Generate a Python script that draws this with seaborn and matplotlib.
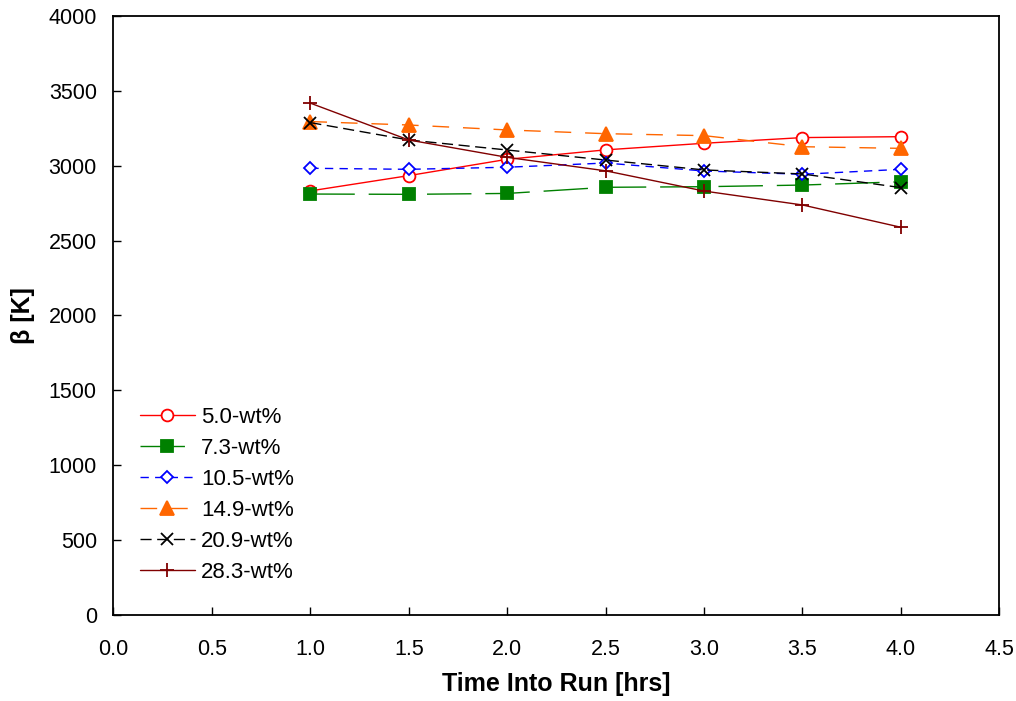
import matplotlib
matplotlib.use("Agg")
import matplotlib.pyplot as plt
import seaborn as sns
import pandas as pd

# Time points (hours into the run)
time_hrs = [1.0, 1.5, 2.0, 2.5, 3.0, 3.5, 4.0]

# Beta values [K] for each loading
beta_5_0 = [2832, 2934, 3043, 3106, 3150, 3188, 3194]
beta_7_3 = [2811, 2809, 2815, 2856, 2860, 2871, 2893]
beta_10_5 = [2983, 2976, 2990, 3018, 2965, 2943, 2976]
beta_14_9 = [3295, 3272, 3239, 3214, 3201, 3127, 3116]
beta_20_9 = [3288, 3172, 3105, 3038, 2972, 2945, 2854]
beta_28_3 = [3418, 3172, 3056, 2966, 2831, 2738, 2589]

labels = ["5.0-wt%", "7.3-wt%", "10.5-wt%", "14.9-wt%", "20.9-wt%", "28.3-wt%"]
series = [beta_5_0, beta_7_3, beta_10_5, beta_14_9, beta_20_9, beta_28_3]

x_ticks = [0.0, 0.5, 1.0, 1.5, 2.0, 2.5, 3.0, 3.5, 4.0, 4.5]
y_ticks = [0, 500, 1000, 1500, 2000, 2500, 3000, 3500, 4000]

styles = [
    dict(color="#FF0000", marker="o", mfc="white", ms=8.5, ls="-"),
    dict(color="#008000", marker="s", mfc="#008000", ms=8.5, ls=(0, (32, 10))),
    dict(color="#0000FF", marker="D", mfc="white", ms=6.5, ls=(0, (6, 4.5))),
    dict(color="#FF6600", marker="^", mfc="#FF6600", ms=9.5, ls=(0, (12, 10))),
    dict(color="#000000", marker="x", mfc="none", ms=9, ls=(0, (8, 4))),
    dict(color="#800000", marker="+", mfc="none", ms=10, ls="-"),
]

rows = []
for lab, vals in zip(labels, series):
    for t, v in zip(time_hrs, vals):
        rows.append({"time": t, "beta": v, "loading": lab})
df = pd.DataFrame(rows)

sns.set_theme(style="white")
plt.rcParams["font.family"] = ["Liberation Sans", "DejaVu Sans"]
plt.rcParams["lines.scale_dashes"] = False
plt.rcParams["text.color"] = "black"
plt.rcParams["axes.labelcolor"] = "black"
plt.rcParams["xtick.color"] = "black"
plt.rcParams["ytick.color"] = "black"

fig = plt.figure(figsize=(10.16, 7.01), dpi=100)
ax = fig.add_axes([0.1117, 0.1227, 0.8719, 0.8545])

for lab, st in zip(labels, styles):
    sub = df[df["loading"] == lab]
    sns.lineplot(data=sub, x="time", y="beta", ax=ax, label=lab,
                 color=st["color"], marker=st["marker"], markersize=st["ms"],
                 markerfacecolor=st["mfc"], markeredgecolor=st["color"],
                 markeredgewidth=1.3, linestyle=st["ls"], linewidth=1.0,
                 errorbar=None, sort=False)

ax.set_xlim(0, 4.5)
ax.set_ylim(0, 4000)
ax.set_xticks(x_ticks)
ax.set_xticklabels([f"{v:.1f}" for v in x_ticks])
ax.set_yticks(y_ticks)
ax.tick_params(direction="in", length=6, width=1, labelsize=15.5,
               bottom=True, left=True)
ax.tick_params(axis="x", pad=17)
ax.tick_params(axis="y", pad=12)
for sp in ax.spines.values():
    sp.set_color("black")
    sp.set_linewidth(1.3)

ax.set_xlabel("Time Into Run [hrs]", fontsize=18, fontweight="bold", labelpad=9)
ax.set_ylabel("β [K]", fontsize=18, fontweight="bold", labelpad=10)

leg = ax.legend(loc="upper left", bbox_to_anchor=(0.02, 0.362), frameon=False,
                fontsize=16, handlelength=2.45, handletextpad=0.3,
                labelspacing=0.45, borderaxespad=0)

fig.savefig("out.png", dpi=100)
